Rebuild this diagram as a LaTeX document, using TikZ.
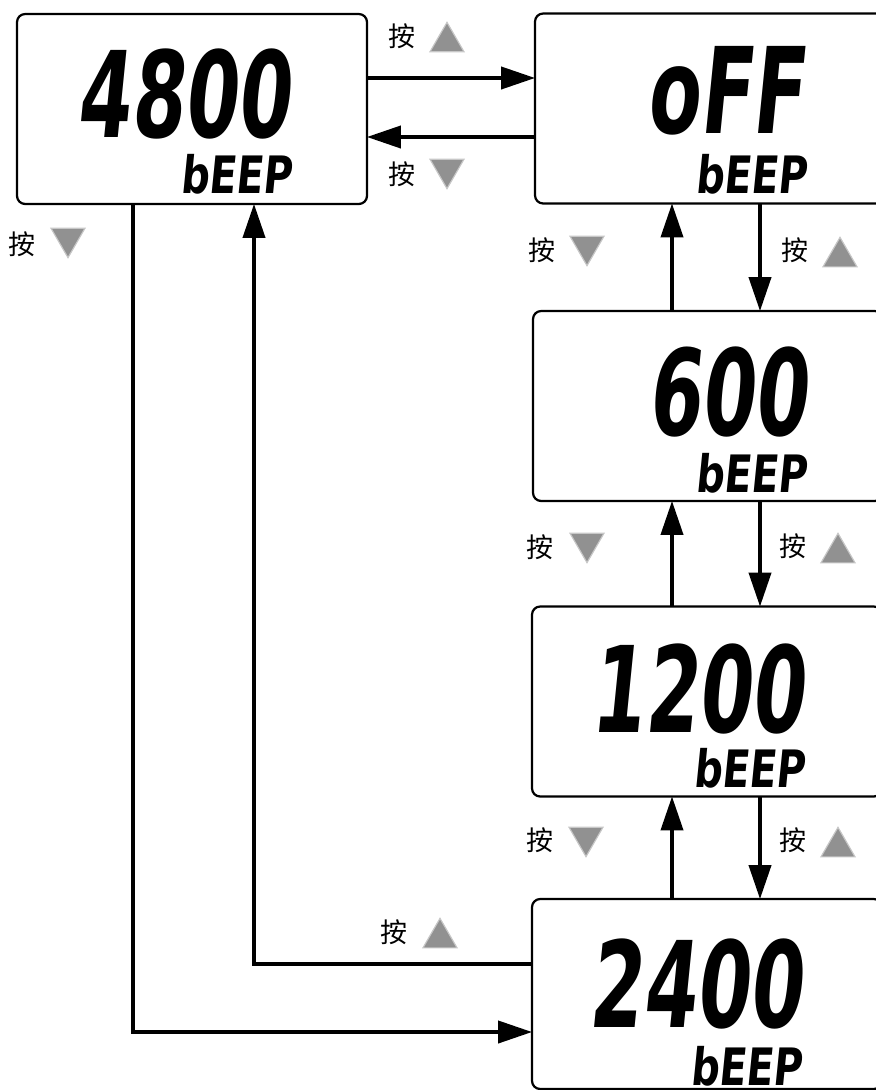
\documentclass[tikz,border=0pt]{standalone}
\usepackage{fontspec}
\usetikzlibrary{arrows.meta,shapes.geometric}
\newfontfamily\cjk{Noto Sans CJK SC}
\newfontfamily\lcdbig{DejaVu Sans Bold}[FakeStretch=0.64,FakeSlant=0.1]
\newfontfamily\lcdsmall{DejaVu Sans Bold}[FakeStretch=0.77,FakeSlant=0.1]

\begin{document}
\begin{tikzpicture}[x=0.03cm,y=-0.03cm,>={Triangle[length=29pt,width=19pt]},
  lcd/.style={draw,line width=1.9pt,rounded corners=7pt,minimum width=10.5cm,minimum height=5.7cm,inner sep=0pt,outer sep=0pt},
  lcdnum/.style={font=\lcdbig\fontsize{102}{102}\selectfont,anchor=base east,inner sep=0pt},
  lcdword/.style={font=\lcdsmall\fontsize{44}{44}\selectfont,anchor=base east,inner sep=0pt},
  pressnote/.style={font=\cjk\fontsize{23}{23}\selectfont,inner sep=0pt},
  upkey/.style={regular polygon,regular polygon sides=3,minimum size=1.18cm,inner sep=0pt,fill=black!43,draw=black!22,line width=1pt},
  downkey/.style={upkey,shape border rotate=180},
  flow/.style={->,line width=2.8pt}]

\useasboundingbox (0,0) rectangle (876,1090);

% LCD screens
\node[lcd] (A) at (192,109) {};
\node[lcd] (B) at (710,108.5) {};
\node[lcd] (C) at (708,406) {};
\node[lcd] (D) at (707,701.5) {};
\node[lcd] (E) at (707,994) {};

% ---- Readings ----
\node[lcdnum] (A1) at (290,137) {4800};
\node[lcdword] (A2) at (292,193) {bEEP};

\node[lcdnum] (B1) at (804,133) {oFF};
\node[lcdword] (B2) at (807,193) {bEEP};

\node[lcdnum] (C1) at (807,435) {600};
\node[lcdword] (C2) at (807,492) {bEEP};

\node[lcdnum] (D1) at (804,732) {1200};
\node[lcdword] (D2) at (805,787) {bEEP};

\node[lcdnum] (E1) at (802,1027) {2400};
\node[lcdword] (E2) at (802,1085) {bEEP};

% ---- Arrows ----
% 4800 <-> oFF
\draw[flow] (A.east |- 0,78) -- (B.west |- 0,78);
\draw[flow] (B.west |- 0,137) -- (A.east |- 0,137);

% down the right column
\draw[flow] (672,0 |- C.north) -- (672,0 |- B.south);
\draw[flow] (760,0 |- B.south) -- (760,0 |- C.north);
\draw[flow] (672,0 |- D.north) -- (672,0 |- C.south);
\draw[flow] (760,0 |- C.south) -- (760,0 |- D.north);
\draw[flow] (672,0 |- E.north) -- (672,0 |- D.south);
\draw[flow] (760,0 |- D.south) -- (760,0 |- E.north);

% 4800 <-> 2400
\draw[flow] (133,0 |- A.south) -- (133,1032) -- (E.west |- 0,1032);
\draw[flow] (E.west |- 0,964) -- (254,964) -- (254,0 |- A.south);

% ---- Key labels ----
\node[pressnote] (p1) at (402,36) {按};
\node[upkey] (k1) at (447,42) {};
\node[pressnote] (p2) at (402,174) {按};
\node[downkey] (k2) at (447,169) {};

\node[pressnote] (p3) at (22,244) {按};
\node[downkey] (k3) at (68,238) {};

\node[pressnote] (p4) at (542,250) {按};
\node[downkey] (k4) at (587,246) {};
\node[pressnote] (p5) at (795,250) {按};
\node[upkey] (k5) at (840,257) {};

\node[pressnote] (p6) at (540,547) {按};
\node[downkey] (k6) at (587,543) {};
\node[pressnote] (p7) at (793,546) {按};
\node[upkey] (k7) at (838,553) {};

\node[pressnote] (p8) at (540,840) {按};
\node[downkey] (k8) at (586,837) {};
\node[pressnote] (p9) at (793,840) {按};
\node[upkey] (k9) at (838,847) {};

\node[pressnote] (p10) at (394,932) {按};
\node[upkey] (k10) at (440,938) {};

\end{tikzpicture}
\end{document}
